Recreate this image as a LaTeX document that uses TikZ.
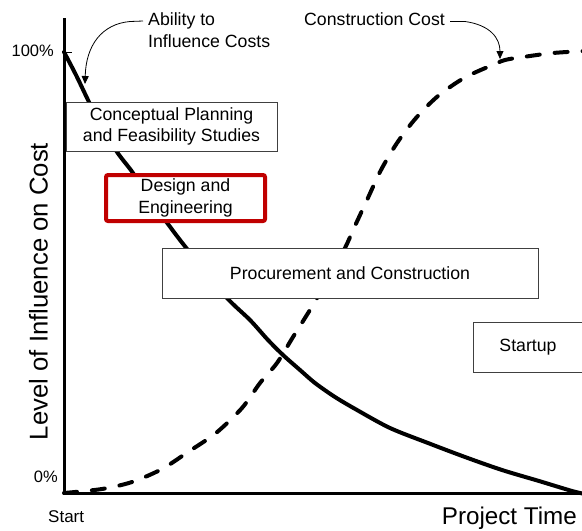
\documentclass[tikz,border=0pt]{standalone}
\usepackage{fontspec}
\setmainfont{Liberation Sans}
\usetikzlibrary{arrows.meta}
\definecolor{boxred}{HTML}{C00000}
\definecolor{boxgray}{HTML}{404040}
\tikzset{
  axisline/.style={line width=3pt, black},
  influence/.style={line width=4pt, black, line join=round, line cap=round},
  costline/.style={line width=4pt, black, line cap=round, dash pattern=on 13pt off 15pt},
  phasebox/.style={draw=boxgray, line width=0.9pt, fill=white, inner sep=0pt, font=\fontsize{17.7}{21.5}\selectfont, align=center},
  redbox/.style={draw=boxred, line width=4pt, rounded corners=2pt, fill=white, inner sep=0pt, font=\fontsize{17.7}{22.5}\selectfont, align=center},
  callout/.style={font=\fontsize{17.7}{21.5}\selectfont, align=left, inner sep=0pt},
  ticklabel/.style={font=\fontsize{16.5}{18}\selectfont, inner sep=0pt},
  startlabel/.style={font=\fontsize{17}{18}\selectfont, inner sep=0pt},
  timelabel/.style={font=\fontsize{24.2}{27}\selectfont, inner sep=0pt},
  ylabel/.style={font=\fontsize{25.7}{28}\selectfont, inner sep=0pt},
  pointer/.style={line width=0.8pt, -{Triangle[width=7pt,length=8pt]}}
}
\begin{document}
\begin{tikzpicture}[x=1pt,y=-1pt]
\useasboundingbox (0,0) rectangle (582,531);
\fill[white] (0,0) rectangle (582,531);

% curves
\draw[costline] plot[smooth, tension=0.5] coordinates {(64,493) (102,489) (132,482) (162,469) (188,452) (216,433) (242,408) (260,383) (277,363) (293,337) (313,305) (330,275) (345,248) (354,228) (367,200) (381,170) (397,143) (416,118) (438,96) (464,78) (490,66) (505,60) (523,57) (553,53) (585,51)};
\draw[influence] plot[smooth, tension=0.5] coordinates {(64,52) (76,75) (88,100) (100,124) (117,152) (133,173) (150,200) (165,220) (180,240) (200,265) (227,298) (250,320) (268,340) (283,355) (300,370) (315,383) (335,397) (357,410) (390,428) (428,443) (465,457) (502,470) (539,481) (572,491) (585,494)};

% axes
\draw[axisline] (64,18) -- (64,494.5);
\draw[axisline] (62.5,493) -- (590,493);
\draw[line width=1pt] (64,52.5) -- (72,52.5);

% axis labels
\node[ticklabel, anchor=east] (p100) at (54,51) {100\%};
\node[ticklabel, anchor=east] (p0) at (58,477) {0\%};
\node[startlabel, anchor=west] (start) at (48,517) {Start};
\node[timelabel, anchor=east] (ptime) at (577,518) {Project Time};
\node[ylabel, rotate=90] (ylab) at (38.5,291.5) {Level of Influence on Cost};

% phase boxes
\node[phasebox, minimum width=211pt, minimum height=49pt] (concept) at (171.5,126.5) {Conceptual Planning\\and Feasibility Studies};
\node[redbox, minimum width=159pt, minimum height=46pt] (design) at (185.5,198) {Design and\\Engineering};
\node[phasebox, minimum width=376pt, minimum height=50pt] (proc) at (350,273) {Procurement and Construction};
\node[phasebox, minimum width=130pt, minimum height=50pt] (startup) at (538,347) {\hspace*{-20pt}Startup};

% callouts
\node[callout, anchor=north west] (abil) at (148,12.5) {Ability to\\Influence Costs};
\node[callout, anchor=west] (ccost) at (304,19.5) {Construction Cost};
\coordinate (abiltip) at (85,84);
\coordinate (ccosttip) at (500,59);
\draw[pointer] (143,21) -- (130,21.5) .. controls (102,24) and (86,45) .. (abiltip);
\draw[pointer] (ccost.east) ++(5,2) -- ++(15,0) .. controls (490,25) and (500,38) .. (ccosttip);
\end{tikzpicture}
\end{document}
